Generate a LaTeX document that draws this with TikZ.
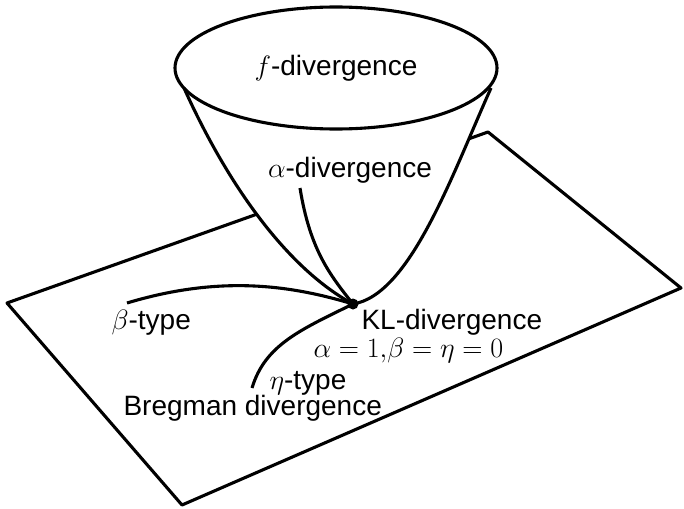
\RequirePackage{fix-cm}
\documentclass[tikz,border=0pt]{standalone}
\usepackage[no-math]{fontspec}
\setmainfont{Liberation Sans}
\begin{document}
\begin{tikzpicture}[x=1pt,y=-1pt,line width=3.1pt,line join=round,
  lbl/.style={font=\fontsize{28}{32}\selectfont,inner sep=0pt}]
\useasboundingbox (0,0) rectangle (684,508);
% the plane
\coordinate (pl) at (7,303);
\coordinate (pb) at (182,505);
\coordinate (pr) at (681,288);
\coordinate (pt) at (488,132);
\draw (pl) -- (pb) -- (pr) -- (pt) -- cycle;
% the cone standing on the plane
\coordinate (tip) at (353,304);
\coordinate (cl) at (184,88);
\coordinate (cr) at (491,88);
\fill[white] (cl) .. controls (230,190) and (290,270) .. (tip)
  .. controls (410,295) and (452,175) .. (cr) -- cycle;
\draw[fill=white] (336,68) ellipse [x radius=161,y radius=61];
\draw (cl) .. controls (230,190) and (290,270) .. (tip)
  .. controls (410,295) and (452,175) .. (cr);
% the three families meeting at the KL point
\coordinate (a0) at (300,188);
\coordinate (b0) at (127,303);
\coordinate (e0) at (252,388);
\draw (a0) .. controls (310,250) and (330,275) .. (tip);
\draw (b0) .. controls (220,275) and (290,285) .. (tip);
\draw (e0) .. controls (265,345) and (300,330) .. (tip);
\fill (tip) circle [radius=5.5];
% labels
\node[lbl] (fdiv) at (336,68) {$f$-divergence};
\node[lbl] (adiv) at (350,170) {$\alpha$-divergence};
\node[lbl,anchor=west] (beta) at (110,323) {$\beta$-type};
\node[lbl,anchor=west] (kl) at (360,322) {KL-divergence};
\node[lbl,anchor=west] (cond) at (312,350) {$\alpha=1{,}\beta=\eta=0$};
\node[lbl,anchor=west] (eta) at (268,383) {$\eta$-type};
\node[lbl,anchor=west] (breg) at (122,408) {Bregman divergence};
\end{tikzpicture}
\end{document}
